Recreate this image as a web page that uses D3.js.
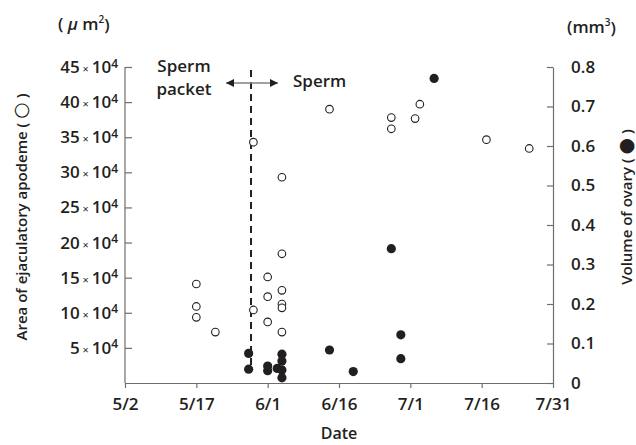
<!DOCTYPE html>
<html>
<head>
<meta charset="utf-8">
<script src="https://cdn.jsdelivr.net/npm/d3@7"></script>
<style>
body { margin: 0; background: #fff; }
svg text { font-family: "Open Sans", sans-serif; fill: #231f20; }
.axis path, .axis line { stroke: #6d6e71; stroke-width: 1.2px; }
.axis text { font-size: 17px; font-weight: 600; }
</style>
</head>
<body>
<svg width="636" height="445"></svg>
<script>

// area of ejaculatory apodeme, x10^4 um^2 (open circles)
var areaDates  = ["5/17","5/17","5/17","5/21","5/29","5/29","6/1","6/1","6/1",
                  "6/4","6/4","6/4","6/4","6/4","6/4","6/14","6/27","6/27","7/2","7/3","7/17","7/26"];
var areaValues = [14.1, 10.9, 9.35, 7.25, 34.3, 10.4, 15.1, 12.3, 8.7,
                  29.3, 18.4, 13.2, 11.25, 10.7, 7.25, 39.0, 37.8, 36.2, 37.65, 39.7, 34.65, 33.4];

// volume of ovary, mm^3 (filled circles)
var ovaryDates  = ["5/28","5/28","6/1","6/1","6/3","6/4","6/4","6/4","6/4",
                   "6/14","6/19","6/27","6/29","6/29","7/6"];
var ovaryValues = [0.075, 0.035, 0.043, 0.031, 0.037, 0.073, 0.056, 0.033, 0.013,
                   0.0835, 0.029, 0.34, 0.122, 0.0615, 0.771];

var dateTicks  = ["5/2","5/17","6/1","6/16","7/1","7/16","7/31"];
var areaTicks  = [5, 10, 15, 20, 25, 30, 35, 40, 45];
var ovaryTicks = [0, 0.1, 0.2, 0.3, 0.4, 0.5, 0.6, 0.7, 0.8];
var boundaryDate = "5/28";   // sperm packet | sperm (half a day later)

function day(s) {
  var p = s.split("/");
  return new Date(2000, +p[0] - 1, +p[1]);
}

var svg = d3.select("svg");
var plotL = 125, plotR = 553, plotT = 67, plotB = 383;

var x = d3.scaleTime()
    .domain([day(dateTicks[0]), day(dateTicks[dateTicks.length - 1])])
    .range([plotL, plotR]);
var yL = d3.scaleLinear().domain([0, 45]).range([plotB, plotT]);
var yR = d3.scaleLinear().domain([0, 0.8]).range([plotB, plotT]);

// axes
svg.append("g")
    .attr("class", "axis")
    .attr("transform", "translate(0," + plotB + ")")
    .call(d3.axisBottom(x)
      .tickValues(dateTicks.map(day))
      .tickSizeInner(5).tickSizeOuter(0).tickPadding(10)
      .tickFormat(d3.timeFormat("%-m/%-d")));

var gl = svg.append("g")
    .attr("class", "axis")
    .attr("transform", "translate(" + plotL + ",0)")
    .call(d3.axisLeft(yL)
      .tickValues(areaTicks)
      .tickSizeInner(-7).tickSizeOuter(0).tickPadding(7));
gl.select(".domain").attr("d", "M0," + yL(0) + "V" + yL(45));
gl.selectAll(".tick text").each(function(d) {
  var t = d3.select(this).text(null);
  t.append("tspan").text(d);
  t.append("tspan").style("font-size", "11px").style("font-weight", 400).text(" \u00d7 ");
  t.append("tspan").text("10");
  t.append("tspan").style("font-size", "12px").attr("dy", "-0.45em").text("4");
});

svg.append("g")
    .attr("class", "axis")
    .attr("transform", "translate(" + plotR + ",0)")
    .call(d3.axisRight(yR)
      .tickValues(ovaryTicks)
      .tickSizeInner(-6).tickSizeOuter(0).tickPadding(18)
      .tickFormat(function(d) { return d === 0 ? "0" : d3.format(".1f")(d); }));

// boundary line + arrow
var bx = x(d3.timeHour.offset(day(boundaryDate), 12));
svg.append("line")
    .attr("x1", bx).attr("x2", bx)
    .attr("y1", 70).attr("y2", 368)
    .attr("stroke", "#231f20").attr("stroke-width", 2)
    .attr("stroke-dasharray", "7,5");

var defs = svg.append("defs");
defs.append("marker")
    .attr("id", "head")
    .attr("viewBox", "0 0 10 10")
    .attr("refX", 10).attr("refY", 5)
    .attr("markerWidth", 11).attr("markerHeight", 8)
    .attr("markerUnits", "userSpaceOnUse")
    .attr("orient", "auto-start-reverse")
  .append("path")
    .attr("d", "M0,0L10,5L0,10Z")
    .attr("fill", "#231f20");

svg.append("line")
    .attr("x1", bx - 25).attr("x2", bx + 27)
    .attr("y1", 83).attr("y2", 83)
    .attr("stroke", "#808285").attr("stroke-width", 1.5)
    .attr("marker-start", "url(#head)")
    .attr("marker-end", "url(#head)");

var ann = svg.append("g").attr("font-size", 17).attr("font-weight", 600);
ann.append("text").attr("x", 184).attr("y", 72).attr("text-anchor", "middle").text("Sperm");
ann.append("text").attr("x", 184).attr("y", 95).attr("text-anchor", "middle").text("packet");
ann.append("text").attr("x", 293).attr("y", 87).text("Sperm");

// points
svg.append("g")
  .selectAll("circle")
  .data(areaDates.map(function(d, i) { return { date: day(d), v: areaValues[i] }; }))
  .enter().append("circle")
    .attr("cx", function(d) { return x(d.date); })
    .attr("cy", function(d) { return yL(d.v); })
    .attr("r", 3.8)
    .attr("fill", "#fff")
    .attr("stroke", "#231f20")
    .attr("stroke-width", 1.1);

svg.append("g")
  .selectAll("circle")
  .data(ovaryDates.map(function(d, i) { return { date: day(d), v: ovaryValues[i] }; }))
  .enter().append("circle")
    .attr("cx", function(d) { return x(d.date); })
    .attr("cy", function(d) { return yR(d.v); })
    .attr("r", 4.6)
    .attr("fill", "#231f20");

// titles and units
var u = svg.append("text").attr("x", 58).attr("y", 30).attr("font-size", 17).attr("font-weight", 600);
u.append("tspan").text("( ");
u.append("tspan").attr("font-style", "italic").text("\u03bc");
u.append("tspan").text(" m");
u.append("tspan").attr("font-size", 10).attr("dy", "-0.7em").text("2");
u.append("tspan").attr("dy", "0.45em").text(")");

var u2 = svg.append("text").attr("x", 567).attr("y", 33).attr("font-size", 17).attr("font-weight", 600);
u2.append("tspan").text("(mm");
u2.append("tspan").attr("font-size", 10).attr("dy", "-0.7em").text("3");
u2.append("tspan").attr("dy", "0.45em").text(")");

svg.append("text")
    .attr("x", 339).attr("y", 439)
    .attr("text-anchor", "middle")
    .attr("font-size", 16).attr("font-weight", 600)
    .text("Date");

var t1 = svg.append("text")
    .attr("transform", "translate(27,217) rotate(-90)")
    .attr("text-anchor", "middle")
    .attr("font-size", 15).attr("font-weight", 600);
t1.append("tspan").text("Area of ejaculatory apodeme ( ");
t1.append("tspan").attr("font-size", 19).attr("font-weight", 400).attr("font-family", "DejaVu Sans").text("\u25cb");
t1.append("tspan").text(" )");

var t2 = svg.append("text")
    .attr("transform", "translate(632,207) rotate(-90)")
    .attr("text-anchor", "middle")
    .attr("font-size", 15).attr("font-weight", 600);
t2.append("tspan").text("Volume of ovary ( ");
t2.append("tspan").attr("font-size", 19).attr("font-family", "DejaVu Sans").text("\u25cf");
t2.append("tspan").text(" )");

</script>
</body>
</html>
